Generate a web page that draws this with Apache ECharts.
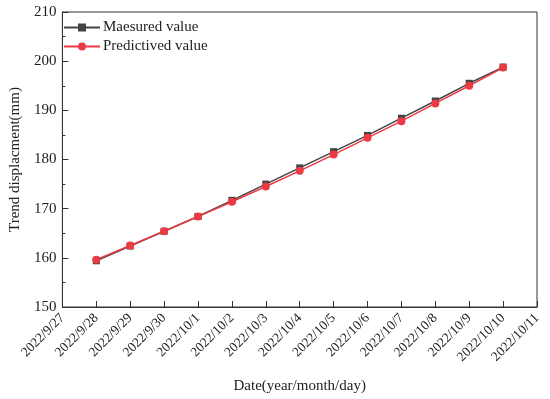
<!DOCTYPE html>
<html><head><meta charset="utf-8">
<script src="https://cdn.jsdelivr.net/npm/echarts@6/dist/echarts.min.js"></script>
<style>html,body{margin:0;padding:0;background:#fff}#c{width:550px;height:399px}</style>
</head><body><div id="c"></div>
<script>
const dates = ['2022/9/27','2022/9/28','2022/9/29','2022/9/30','2022/10/1','2022/10/2','2022/10/3','2022/10/4','2022/10/5','2022/10/6','2022/10/7','2022/10/8','2022/10/9','2022/10/10','2022/10/11'];
const measured = [null,159.4,162.4,165.4,168.4,171.7,175.0,178.3,181.6,184.9,188.4,191.9,195.5,198.8,null];
const predicted = [null,159.6,162.5,165.4,168.4,171.4,174.5,177.7,181.0,184.4,187.8,191.4,195.0,198.7,null];
const yTicks = {min:150, max:210, interval:10};
const font = 'Liberation Serif';
const chart = echarts.init(document.getElementById('c'));
chart.setOption({
  animation:false,
  textStyle:{fontFamily:font},
  grid:{left:53,right:13,top:12,bottom:90,show:true,borderColor:'#333',borderWidth:1,backgroundColor:'transparent'},
  legend:{left:58,top:15,orient:'vertical',itemGap:4,itemWidth:36,itemHeight:10,
    textStyle:{fontFamily:font,fontSize:15,color:'#222',padding:[0,0,0,-2]},
    data:['Maesured value','Predictived value']},
  xAxis:{type:'category',data:dates,boundaryGap:false,
    name:'Date(year/month/day)',nameLocation:'middle',nameGap:72,
    nameTextStyle:{fontFamily:font,fontSize:15,color:'#222'},
    axisLine:{lineStyle:{color:'#333',width:1}},
    axisTick:{inside:true,length:6,alignWithLabel:true,lineStyle:{color:'#333'}},
    axisLabel:{rotate:45,fontFamily:font,fontSize:13.5,color:'#222',interval:0,margin:9},
    splitLine:{show:false}},
  yAxis:{type:'value',min:yTicks.min,max:yTicks.max,interval:yTicks.interval,
    name:'Trend displacment(mm)',nameLocation:'middle',nameGap:38,
    nameTextStyle:{fontFamily:font,fontSize:15,color:'#222'},
    axisLine:{show:true,lineStyle:{color:'#333',width:1}},
    axisTick:{show:true,inside:true,length:6,lineStyle:{color:'#333'}},
    minorTick:{show:true,splitNumber:2,length:3,lineStyle:{color:'#333'}},
    axisLabel:{fontFamily:font,fontSize:15,color:'#222',margin:6},
    splitLine:{show:false}},
  series:[
    {name:'Maesured value',type:'line',data:measured,symbol:'rect',symbolSize:7,
     itemStyle:{color:'#444'},lineStyle:{color:'#444',width:1.5}},
    {name:'Predictived value',type:'line',data:predicted,symbol:'circle',symbolSize:8,
     itemStyle:{color:'#ec3a44'},lineStyle:{color:'#ec3a44',width:1.5}}
  ]
});
</script></body></html>
